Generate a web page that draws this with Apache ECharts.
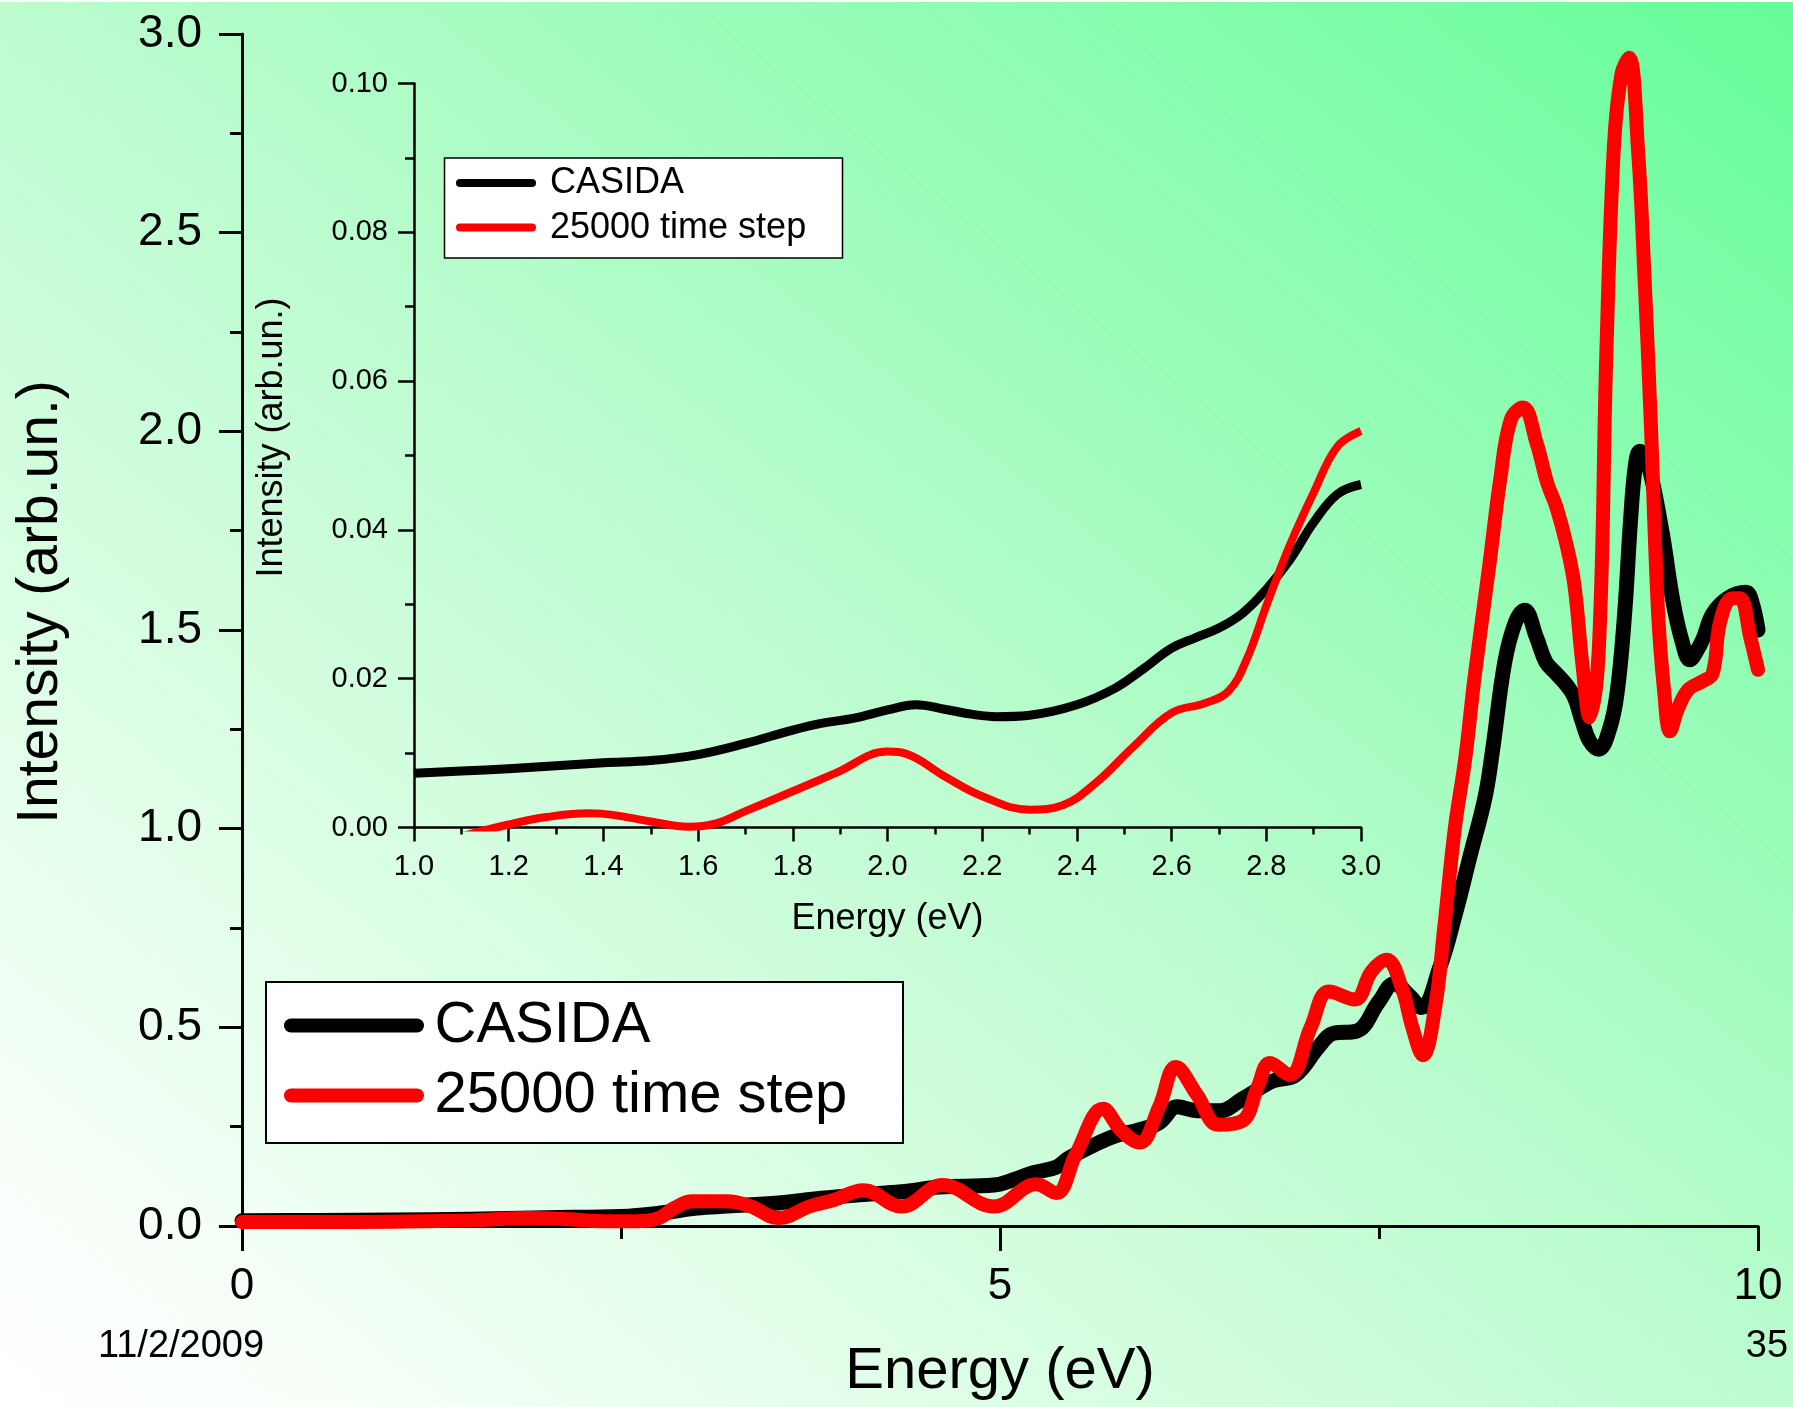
<!DOCTYPE html>
<html>
<head>
<meta charset="utf-8">
<title>Intensity vs Energy</title>
<script src="https://cdn.jsdelivr.net/npm/echarts@6/dist/echarts.min.js"></script>
<style>
  html, body { margin: 0; padding: 0; }
  #chart { width: 1793px; height: 1407px; }
</style>
</head>
<body>
<div id="chart"></div>
<script>
// ---- Full spectrum (main panel) ----
const mainEnergyCasida = [0, 0.5, 1.0, 1.5, 2.0, 2.5, 2.75, 3.0, 3.2, 3.54,
  3.82, 4.1, 4.35, 4.6, 4.96, 5.1, 5.22, 5.37, 5.45, 5.6,
  5.76, 5.9, 6.05, 6.17, 6.3, 6.45, 6.6, 6.8, 6.95, 7.1,
  7.2, 7.35, 7.5, 7.6, 7.7, 7.78, 7.9, 8.0, 8.1, 8.2,
  8.25, 8.33, 8.4, 8.46, 8.54, 8.6, 8.67, 8.74, 8.79, 8.84,
  8.89, 8.95, 9.02, 9.07, 9.12, 9.16, 9.19, 9.22, 9.26, 9.3,
  9.37, 9.44, 9.5, 9.55, 9.6, 9.64, 9.7, 9.8, 9.92, 9.96, 10.0];
const mainCasida = [0.013, 0.014, 0.015, 0.017, 0.021, 0.024, 0.032, 0.045, 0.05, 0.058,
  0.07, 0.079, 0.086, 0.098, 0.103, 0.118, 0.134, 0.148, 0.17, 0.2,
  0.227, 0.24, 0.26, 0.3, 0.29, 0.29, 0.32, 0.365, 0.38, 0.45,
  0.485, 0.49, 0.565, 0.61, 0.58, 0.55, 0.65, 0.78, 0.93, 1.08,
  1.2, 1.42, 1.52, 1.55, 1.48, 1.42, 1.39, 1.36, 1.33, 1.27,
  1.22, 1.2, 1.25, 1.34, 1.54, 1.78, 1.91, 1.95, 1.93, 1.88,
  1.74, 1.57, 1.47, 1.425, 1.45, 1.48, 1.54, 1.58, 1.595, 1.57, 1.5];

const mainEnergyTd = [0, 0.5, 1.0, 1.5, 1.9, 2.1, 2.4, 2.6, 2.75, 2.85,
  2.97, 3.2, 3.35, 3.54, 3.75, 3.9, 4.1, 4.35, 4.62, 4.96,
  5.24, 5.37, 5.5, 5.68, 5.8, 5.92, 6.05, 6.16, 6.3, 6.44,
  6.6, 6.7, 6.78, 6.91, 7.05, 7.17, 7.34, 7.45, 7.55, 7.65,
  7.72, 7.79, 7.87, 7.93, 8.0, 8.07, 8.13, 8.23, 8.3, 8.37,
  8.45, 8.54, 8.61, 8.67, 8.74, 8.79, 8.84, 8.89, 8.95, 9.0,
  9.05, 9.1, 9.15, 9.21, 9.25, 9.29, 9.34, 9.38, 9.42, 9.47,
  9.54, 9.63, 9.7, 9.75, 9.83, 9.88, 9.95, 10.0];
const mainTd = [0.01, 0.01, 0.011, 0.014, 0.02, 0.018, 0.012, 0.012, 0.02, 0.045,
  0.062, 0.062, 0.05, 0.02, 0.05, 0.065, 0.09, 0.049, 0.103, 0.049,
  0.105, 0.083, 0.18, 0.295, 0.24, 0.21, 0.3, 0.4, 0.33, 0.255,
  0.265, 0.35, 0.41, 0.38, 0.5, 0.59, 0.57, 0.64, 0.67, 0.6,
  0.5, 0.43, 0.55, 0.75, 1.0, 1.18, 1.38, 1.67, 1.88, 2.03,
  2.06, 1.97, 1.87, 1.81, 1.71, 1.61, 1.42, 1.28, 1.45, 2.2,
  2.72, 2.9, 2.94, 2.7, 2.4, 2.05, 1.55, 1.35, 1.245, 1.3,
  1.35, 1.37, 1.39, 1.52, 1.58, 1.58, 1.48, 1.40];

// ---- Low-energy detail (inset panel) ----
const insetEnergyCasida = [1.0, 1.1, 1.2, 1.3, 1.4, 1.5, 1.6, 1.7, 1.8, 1.86,
  1.93, 2.0, 2.06, 2.12, 2.18, 2.23, 2.3, 2.4, 2.48, 2.54,
  2.6, 2.65, 2.7, 2.75, 2.8, 2.85, 2.9, 2.95, 3.0];
const insetCasida = [0.0073, 0.0076, 0.0079, 0.0083, 0.0087, 0.009, 0.0098, 0.0113, 0.0131, 0.014,
  0.0147, 0.0158, 0.0165, 0.0159, 0.0152, 0.0149, 0.0151, 0.0165, 0.0187, 0.0213,
  0.0241, 0.0255, 0.0268, 0.0288, 0.032, 0.036, 0.041, 0.0448, 0.0461];

const insetEnergyTd = [1.0, 1.1, 1.2, 1.28, 1.37, 1.42, 1.5, 1.58, 1.64, 1.7,
  1.79, 1.89, 2.0, 2.04, 2.12, 2.2, 2.3, 2.37, 2.44, 2.52,
  2.6, 2.67, 2.72, 2.76, 2.8, 2.85, 2.9, 2.95, 3.0];
const insetTd = [-0.003, -0.0012, 0.0004, 0.0014, 0.0019, 0.0017, 0.0008, 0.0001, 0.0006, 0.0022,
  0.0046, 0.0073, 0.0102, 0.0099, 0.0069, 0.0042, 0.0024, 0.003, 0.006, 0.0109,
  0.0154, 0.0167, 0.0183, 0.0228, 0.0298, 0.038, 0.045, 0.0512, 0.0533];

// ---- Labels ----
const seriesNames = ['CASIDA', '25000 time step'];
const axisTitleX = 'Energy (eV)';
const axisTitleY = 'Intensity (arb.un.)';
const footerDate = '11/2/2009';
const footerPage = '35';

const pairs = (xs, ys) => xs.map((x, i) => [x, ys[i]]);

const FONT = '"Liberation Sans", Arial, sans-serif';
const pill = 'path://M5,0H95A5,5,0,0,1,95,10H5A5,5,0,0,1,5,0Z';

const chart = echarts.init(document.getElementById('chart'), null, { renderer: 'canvas' });

function axisCommon(width, tickLen, minorLen) {
  return {
    axisLine: { show: true, onZero: false, lineStyle: { color: '#000', width: width } },
    axisTick: { show: true, inside: false, length: tickLen, lineStyle: { color: '#000', width: width } },
    minorTick: { show: true, splitNumber: 2, length: minorLen, lineStyle: { color: '#000', width: width } },
    splitLine: { show: false },
    minorSplitLine: { show: false }
  };
}

const option = {
  animation: false,
  backgroundColor: {
    type: 'linear', global: true,
    x: 0, y: 1407, x2: 1367, y2: -335,
    colorStops: [
      { offset: 0, color: '#ffffff' },
      { offset: 0.1, color: '#f7fff8' },
      { offset: 0.5, color: '#bcfccf' },
      { offset: 1, color: '#66fd99' }
    ]
  },
  textStyle: { fontFamily: FONT },
  grid: [
    { left: 242, top: 34, width: 1516, height: 1192, containLabel: false, outerBoundsMode: 'none' },
    { left: 414, top: 83.5, width: 947, height: 744, containLabel: false, outerBoundsMode: 'none' }
  ],
  xAxis: [
    Object.assign({
      gridIndex: 0, type: 'value', min: 0, max: 10, interval: 5,
      axisLabel: { color: '#000', fontSize: 44, fontFamily: FONT, margin: 39 },
      name: axisTitleX, nameLocation: 'middle', nameGap: 117,
      nameTextStyle: { color: '#000', fontSize: 58, fontFamily: FONT }
    }, axisCommon(3, 25, 13)),
    Object.assign({
      gridIndex: 1, type: 'value', min: 1, max: 3, interval: 0.2,
      axisLabel: { color: '#000', fontSize: 29, fontFamily: FONT, margin: 25,
        formatter: v => v.toFixed(1) },
      name: axisTitleX, nameLocation: 'middle', nameGap: 74,
      nameTextStyle: { color: '#000', fontSize: 36, fontFamily: FONT }
    }, axisCommon(2.5, 14, 7))
  ],
  yAxis: [
    Object.assign({
      gridIndex: 0, type: 'value', min: 0, max: 3, interval: 0.5,
      axisLabel: { color: '#000', fontSize: 46, fontFamily: FONT, margin: 40,
        formatter: v => v.toFixed(1) },
      name: axisTitleY, nameLocation: 'middle', nameGap: 172, nameRotate: 90,
      nameTextStyle: { color: '#000', fontSize: 57, fontFamily: FONT, padding: [0, 0, 0, 56] }
    }, axisCommon(3, 23, 12)),
    Object.assign({
      gridIndex: 1, type: 'value', min: 0, max: 0.1, interval: 0.02,
      axisLabel: { color: '#000', fontSize: 29, fontFamily: FONT, margin: 26,
        formatter: v => v.toFixed(2) },
      name: axisTitleY, nameLocation: 'middle', nameGap: 124, nameRotate: 90,
      nameTextStyle: { color: '#000', fontSize: 36, fontFamily: FONT, padding: [0, 0, 0, 36] }
    }, axisCommon(2.5, 16, 9))
  ],
  legend: [
    {
      data: seriesNames, orient: 'vertical', left: 284, top: 996.5,
      padding: 0, itemGap: 12, itemWidth: 141, itemHeight: 14, icon: pill,
      itemStyle: { borderWidth: 0 },
      textStyle: { color: '#000', fontSize: 58, fontFamily: FONT, lineHeight: 58, padding: [0, 0, 0, 5] },
      selectedMode: false
    },
    {
      data: seriesNames, orient: 'vertical', left: 456, top: 165,
      padding: 0, itemGap: 8.6, itemWidth: 88, itemHeight: 8, icon: pill,
      itemStyle: { borderWidth: 0 },
      textStyle: { color: '#000', fontSize: 36, fontFamily: FONT, lineHeight: 36, padding: [0, 0, 0, 5] },
      selectedMode: false
    }
  ],
  graphic: [
    { type: 'rect', z: 1, shape: { x: 0, y: 0, width: 1793, height: 2 }, style: { fill: '#ffffff' } },
    { type: 'rect', z: 1, shape: { x: 266, y: 982, width: 637, height: 161 },
      style: { fill: '#ffffff', stroke: '#000', lineWidth: 2 } },
    { type: 'rect', z: 1, shape: { x: 444.5, y: 158, width: 398, height: 100 },
      style: { fill: '#ffffff', stroke: '#000', lineWidth: 1.5 } },
    { type: 'text', z: 5, style: { text: footerDate, x: 181, y: 1347, fill: '#000',
      font: '38px ' + FONT, textAlign: 'center', textVerticalAlign: 'middle' } },
    { type: 'text', z: 5, style: { text: footerPage, x: 1767, y: 1347, fill: '#000',
      font: '38px ' + FONT, textAlign: 'center', textVerticalAlign: 'middle' } }
  ],
  series: [
    {
      name: seriesNames[0], type: 'line', xAxisIndex: 0, yAxisIndex: 0,
      data: pairs(mainEnergyCasida, mainCasida), smooth: 0.4, showSymbol: false, clip: true,
      color: '#000000', lineStyle: { color: '#000000', width: 15, cap: 'round', join: 'round' }, z: 2
    },
    {
      name: seriesNames[1], type: 'line', xAxisIndex: 0, yAxisIndex: 0,
      data: pairs(mainEnergyTd, mainTd), smooth: 0.4, showSymbol: false, clip: true,
      color: '#ff0000', lineStyle: { color: '#ff0000', width: 14, cap: 'round', join: 'round' }, z: 3
    },
    {
      name: seriesNames[0], type: 'line', xAxisIndex: 1, yAxisIndex: 1,
      data: pairs(insetEnergyCasida, insetCasida), smooth: 0.4, showSymbol: false, clip: true,
      color: '#000000', lineStyle: { color: '#000000', width: 9, cap: 'butt', join: 'round' }, z: 2
    },
    {
      name: seriesNames[1], type: 'line', xAxisIndex: 1, yAxisIndex: 1,
      data: pairs(insetEnergyTd, insetTd), smooth: 0.4, showSymbol: false, clip: true,
      color: '#ff0000', lineStyle: { color: '#ff0000', width: 8, cap: 'butt', join: 'round' }, z: 3
    }
  ]
};

chart.setOption(option);
</script>
</body>
</html>
